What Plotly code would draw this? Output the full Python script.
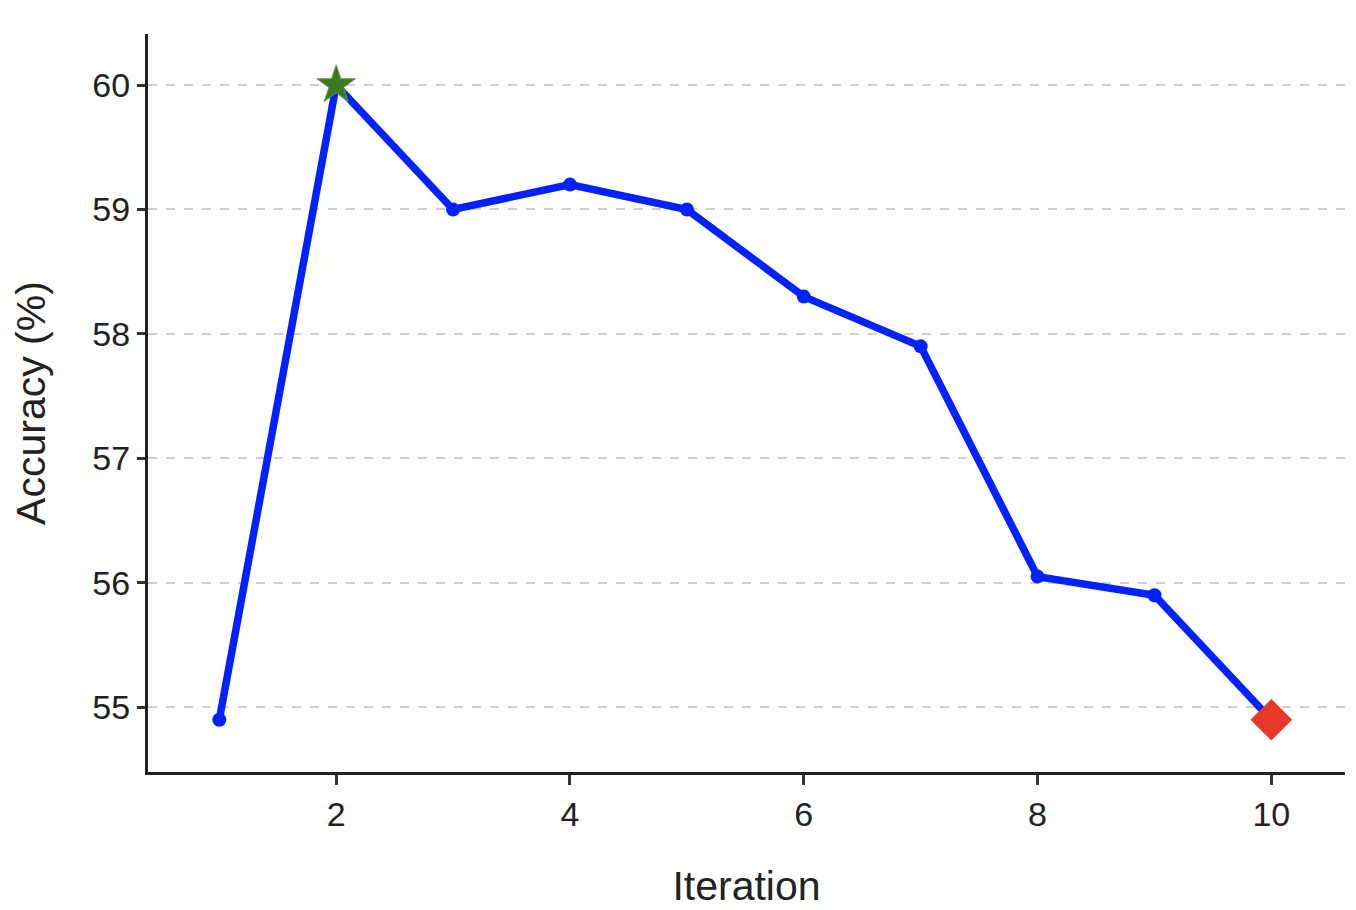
import plotly.graph_objects as go

iterations = [1, 2, 3, 4, 5, 6, 7, 8, 9, 10]
accuracy = [54.9, 60.0, 59.0, 59.2, 59.0, 58.3, 57.9, 56.05, 55.9, 54.9]

best_iter = [2]
best_acc = [60.0]
last_iter = [10]
last_acc = [54.9]

fig = go.Figure()

fig.add_trace(go.Scatter(
    x=iterations, y=accuracy, mode='lines+markers',
    line=dict(color='#0022ff', width=7.5),
    marker=dict(color='#0022ff', size=14),
    showlegend=False))

fig.add_trace(go.Scatter(
    x=best_iter, y=best_acc, mode='markers',
    marker=dict(symbol='star', color='#3b7a22', size=29,
                line=dict(color='#6a9a50', width=1)),
    showlegend=False))

fig.add_trace(go.Scatter(
    x=last_iter, y=last_acc, mode='markers',
    marker=dict(symbol='diamond', color='#e83726', size=32,
                line=dict(width=0)),
    showlegend=False))

fig.update_xaxes(
    title_text='Iteration', title_font=dict(size=41, color='#222'),
    title_standoff=40,
    range=[0.39, 10.63], tickvals=[2, 4, 6, 8, 10],
    tickfont=dict(size=34, color='#222'),
    showline=True, linecolor='#222', linewidth=3,
    ticks='outside', ticklen=10, tickwidth=3, tickcolor='#333',
    showgrid=False, zeroline=False)

fig.update_yaxes(
    title_text='Accuracy (%)', title_font=dict(size=41, color='#222'),
    title_standoff=40,
    range=[54.48, 60.41], tickvals=[55, 56, 57, 58, 59, 60],
    tickfont=dict(size=34, color='#222'),
    showline=True, linecolor='#222', linewidth=3,
    ticks='outside', ticklen=8, tickwidth=3, tickcolor='#333',
    showgrid=True, gridcolor='#cfcfcf', griddash='dash', gridwidth=1.5,
    zeroline=False)

fig.update_layout(
    width=1356, height=910,
    margin=dict(l=140, r=19, t=26, b=146, autoexpand=False),
    plot_bgcolor='white', paper_bgcolor='white',
    font=dict(family='Liberation Sans, Arial, sans-serif'))

fig.write_html("out.html")
